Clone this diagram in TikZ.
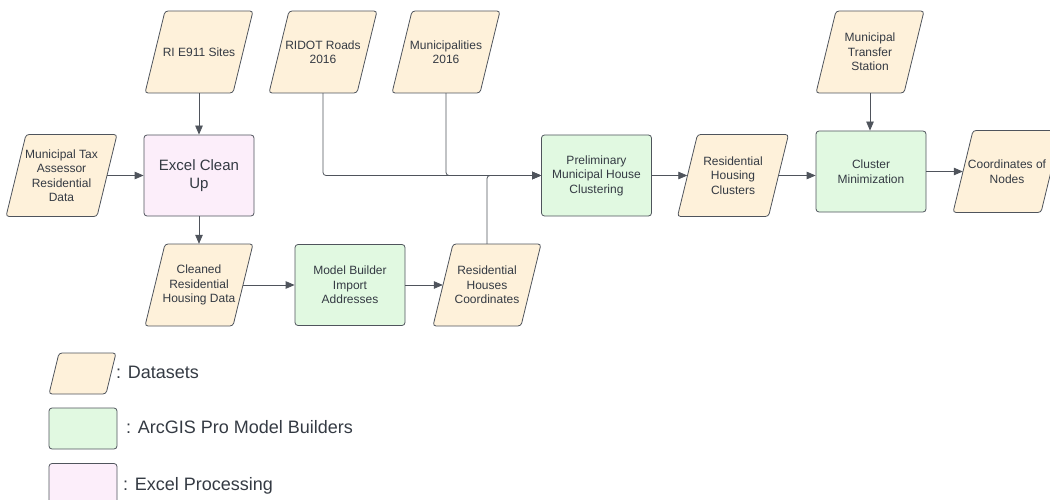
\documentclass[tikz,border=0pt]{standalone}
\usepackage{fontspec}
\setmainfont{Liberation Sans}
\usetikzlibrary{arrows.meta}

\definecolor{datafill}{HTML}{FEF1DA}
\definecolor{gisfill}{HTML}{E1F9E1}
\definecolor{xlfill}{HTML}{FCEEFA}
\definecolor{edge}{HTML}{4F545C}
\definecolor{ink}{HTML}{343A43}

\tikzset{
  dsbox/.style={draw=edge, fill=datafill, line width=0.8pt, rounded corners=3pt},
  dstext/.style={shape=rectangle, inner sep=0pt, minimum height=82pt, align=center,
    text=ink, font=\fontsize{12}{14.5}\selectfont},
  gisbox/.style={draw=edge, fill=gisfill, line width=0.8pt, rounded corners=3pt,
    minimum width=110pt, minimum height=81pt, inner sep=0pt, align=center,
    text=ink, font=\fontsize{12}{14.5}\selectfont},
  xlbox/.style={gisbox, fill=xlfill, font=\fontsize{15}{18.3}\selectfont},
  conn/.style={draw=edge, line width=0.8pt, rounded corners=3pt,
    -{Triangle[length=9pt,width=7.5pt]}},
  legtext/.style={anchor=west, inner sep=0pt, text=ink, font=\fontsize{18}{20}\selectfont},
}

% parallelogram dataset: name, x, y, midline width, text
\newcommand\dataset[5]{%
  \path[dsbox] (#2,{#3+41}) -- ({#2-#4/2-10},{#3+41}) -- ({#2-#4/2+10},{#3-41})
    -- ({#2+#4/2+10},{#3-41}) -- ({#2+#4/2-10},{#3+41}) -- cycle;
  \node[dstext, minimum width=#4] (#1) at (#2,#3) {#5};}

\begin{document}
\begin{tikzpicture}[x=1pt, y=-1pt]
\useasboundingbox (0,0) rectangle (1050,500);

% input datasets
\dataset{e911}{199}{52}{88}{RI E911 Sites}
\dataset{ridot}{323}{52}{88}{RIDOT Roads\\2016}
\dataset{munic}{446}{52}{88}{Municipalities\\2016}
\dataset{tax}{61.5}{175.5}{91}{Municipal Tax\\Assessor\\Residential\\Data}
\dataset{mts}{870}{52}{88}{Municipal\\Transfer\\Station}

% processing steps
\node[xlbox] (clean) at (199,175.5) {Excel Clean\\Up};
\node[gisbox] (import) at (350,285) {Model Builder\\Import\\Addresses};
\node[gisbox] (prelim) at (596.5,175.5) {Preliminary\\Municipal House\\Clustering};
\node[gisbox] (cmin) at (871,171.5) {Cluster\\Minimization};

% intermediate and output datasets
\dataset{cleaned}{199}{285}{88}{Cleaned\\Residential\\Housing Data}
\dataset{rhc}{487}{285}{88}{Residential\\Houses\\Coordinates}
\dataset{rhcl}{733}{175.5}{91}{Residential\\Housing\\Clusters}
\dataset{nodes}{1007}{171.5}{88}{Coordinates of\\Nodes}

% flow
\draw[conn] (e911) -- (clean);
\draw[conn] (tax) -- (clean);
\draw[conn] (clean) -- (cleaned);
\draw[conn] (cleaned) -- (import);
\draw[conn] (import) -- (rhc);
\draw[conn] (ridot.south) |- (prelim.west);
\draw[conn] (munic.south) |- (prelim.west);
\draw[conn] (rhc.north) |- (prelim.west);
\draw[conn] (prelim.east) -- (prelim.east -| rhcl.west);
\draw[conn] (rhcl.east) -- (rhcl.east -| cmin.west);
\draw[conn] (mts.south) -- (mts.south |- cmin.north);
\draw[conn] (cmin.east) -- (cmin.east -| nodes.west);

% legend
\path[dsbox] (82.5,394) -- (49,394) -- (59,353) -- (116,353) -- (106,394) -- cycle;
\node[draw=edge, fill=gisfill, line width=0.8pt, rounded corners=3pt,
  minimum width=68pt, minimum height=41pt] (leggis) at (83,428.5) {};
\node[draw=edge, fill=xlfill, line width=0.8pt, rounded corners=3pt,
  minimum width=68pt, minimum height=41pt] (legxl) at (83,484) {};
\node[legtext] (legds) at (116,372) {: Datasets};
\node[legtext] (leggist) at (126,427) {: ArcGIS Pro Model Builders};
\node[legtext] (legxlt) at (123,486) {: Excel Processing};
\end{tikzpicture}
\end{document}
